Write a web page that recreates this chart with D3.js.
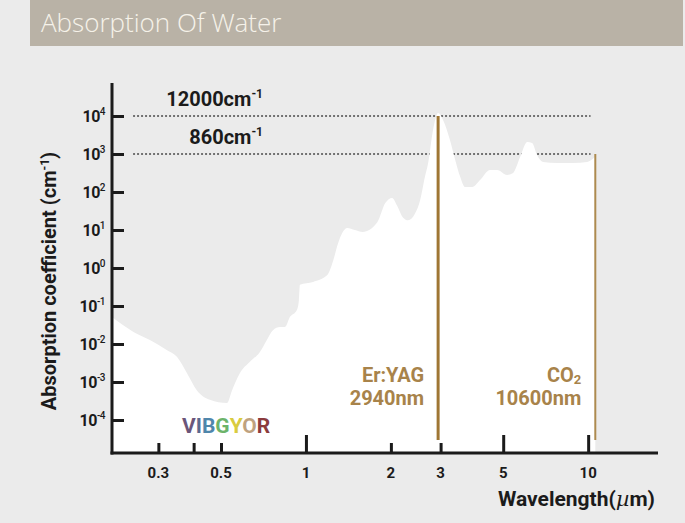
<!DOCTYPE html>
<html>
<head>
<meta charset="utf-8">
<script src="https://cdn.jsdelivr.net/npm/d3@7"></script>
<style>
  body { margin: 0; background: #ebebeb; }
  svg { display: block; font-family: Roboto, "DejaVu Sans", sans-serif; }
</style>
</head>
<body>
<script>

// absorption spectrum of water
// wavelength in micrometres, absorption coefficient in 1/cm
var wavelengths = [0.2055, 0.244, 0.28, 0.321, 0.349, 0.379, 0.411, 0.457, 0.525, 0.547,
                   0.583, 0.633, 0.687, 0.727, 0.764, 0.809, 0.843, 0.877, 0.929, 0.944,
                   0.952, 1.06, 1.19, 1.25, 1.30, 1.40, 1.49, 1.59, 1.79, 1.91,
                   2.02, 2.10, 2.21, 2.30, 2.44, 2.54, 2.64, 2.71, 2.82, 2.94,
                   3.06, 3.24, 3.38, 3.52, 3.66, 3.88, 4.14, 4.49, 4.76, 5.16,
                   5.42, 5.74, 6.08, 6.33, 6.59, 6.92, 7.76, 8.85, 9.92, 10.6];
var absorption = [0.051, 0.021, 0.0127, 0.007, 0.0046, 0.0017, 0.0006, 0.00034, 0.00028, 0.0006,
                  0.0017, 0.0034, 0.0062, 0.0127, 0.023, 0.028, 0.028, 0.051, 0.079, 0.14,
                  0.36, 0.43, 0.65, 1.6, 4.5, 11.3, 10, 8.9, 16, 51,
                  70, 45, 21, 18, 28, 62, 250, 580, 4300, 12000,
                  7900, 2300, 700, 250, 135, 135, 207, 380, 380, 280,
                  316, 830, 2070, 1950, 940, 615, 580, 580, 615, 860];

var yTickExp = [4, 3, 2, 1, 0, -1, -2, -3, -4];
var xTicksMajor = [1, 5, 10];
var xTicksMinor = [0.3, 0.4, 0.5, 2, 3];
var xTickLabels = [0.3, 0.5, 1, 2, 3, 5, 10];

// dotted reference levels and their labels
var refLevels = [1e4, 1e3];
var refLabels = ['12000', '860'];
var refSpan = [0.244, 10.2];

// laser lines
var lasers = [
  { name: 'Er:YAG', sub: '', wave: '2940nm', at: 2.94, top: 1e4, width: 3, color: '#9f7634' },
  { name: 'CO', sub: '2', wave: '10600nm', at: 10.6, top: 1e3, width: 2, color: '#ad8a4f' }
];
var laserBottom = 3e-5;

var vibgyor = ['V', 'I', 'B', 'G', 'Y', 'O', 'R'];
var vibgyorColors = ['#6b5579', '#5a6a90', '#4f86ab', '#6cb36a', '#d9cb40', '#bfa27f', '#8b3b3d'];

var W = 685, H = 523;

var svg = d3.select('body').append('svg')
  .attr('width', W)
  .attr('height', H);

svg.append('rect').attr('width', W).attr('height', H).attr('fill', '#ebebeb');

// header bar
svg.append('rect')
  .attr('x', 30).attr('y', 0)
  .attr('width', 653).attr('height', 46)
  .attr('fill', '#b9b2a6');
svg.append('text')
  .attr('x', 41).attr('y', 32)
  .attr('font-family', '"Open Sans", sans-serif')
  .attr('font-weight', 300)
  .attr('font-size', 26)
  .attr('fill', '#f6f2ea')
  .text('Absorption Of Water');

var x = d3.scaleLog().domain([0.2055, 17.68]).range([112, 658]);
var y = d3.scaleLog().domain([1.355e-5, 7.38e4]).range([453, 83]);

var data = wavelengths.map(function(w, i) { return { w: w, a: absorption[i] }; });

// dotted levels
svg.selectAll('.ref')
  .data(refLevels)
  .enter()
  .append('line')
  .attr('x1', x(refSpan[0]))
  .attr('x2', x(refSpan[1]))
  .attr('y1', function(d) { return y(d); })
  .attr('y2', function(d) { return y(d); })
  .attr('stroke', '#4a4a4a')
  .attr('stroke-width', 1.4)
  .attr('stroke-dasharray', '2,2');

// white area under the curve
var area = d3.area()
  .x(function(d) { return x(d.w); })
  .y0(y(y.domain()[0]))
  .y1(function(d) { return y(d.a); })
  .curve(d3.curveMonotoneX);

svg.append('path')
  .datum(data)
  .attr('d', area)
  .attr('fill', '#ffffff');

// axes
var axisColor = '#1b1b1b';

var yAxis = svg.append('g')
  .attr('transform', 'translate(' + x.range()[0] + ',0)')
  .call(d3.axisLeft(y)
    .tickValues(yTickExp.map(function(e) { return Math.pow(10, e); }))
    .tickSize(-12)
    .tickFormat(function() { return ''; }));
yAxis.select('.domain').remove();
yAxis.selectAll('.tick line').attr('stroke', axisColor).attr('stroke-width', 3);

var xMinor = svg.append('g')
  .attr('transform', 'translate(0,' + y.range()[0] + ')')
  .call(d3.axisBottom(x).tickValues(xTicksMinor).tickSize(-10).tickFormat(function() { return ''; }));
var xMajor = svg.append('g')
  .attr('transform', 'translate(0,' + y.range()[0] + ')')
  .call(d3.axisBottom(x).tickValues(xTicksMajor).tickSize(-18).tickFormat(function() { return ''; }));
[xMinor, xMajor].forEach(function(g) {
  g.select('.domain').remove();
  g.selectAll('.tick line').attr('stroke', axisColor).attr('stroke-width', 3);
});

// axis lines
svg.append('line')
  .attr('x1', x.range()[0]).attr('x2', x.range()[0])
  .attr('y1', y.range()[1]).attr('y2', y.range()[0] + 1.5)
  .attr('stroke', axisColor).attr('stroke-width', 3);
svg.append('line')
  .attr('x1', x.range()[0] - 1.5).attr('x2', x.range()[1])
  .attr('y1', y.range()[0]).attr('y2', y.range()[0])
  .attr('stroke', axisColor).attr('stroke-width', 3);

// y tick labels 10^n
var yLab = svg.selectAll('.ylab')
  .data(yTickExp)
  .enter()
  .append('text')
  .attr('x', x.range()[0] - 7)
  .attr('y', function(d) { return y(Math.pow(10, d)) + 6; })
  .attr('text-anchor', 'end')
  .attr('font-weight', 700)
  .attr('font-size', 16)
  .attr('letter-spacing', -0.5)
  .attr('fill', axisColor);
yLab.append('tspan').text('10');
yLab.append('tspan')
  .attr('dy', -7)
  .attr('font-size', 10)
  .attr('font-weight', 500)
  .text(function(d) { return d < 0 ? '-' + (-d) : d; });

// x tick labels
svg.selectAll('.xlab')
  .data(xTickLabels)
  .enter()
  .append('text')
  .attr('x', function(d) { return x(d); })
  .attr('y', 478)
  .attr('text-anchor', 'middle')
  .attr('font-weight', 700)
  .attr('font-size', 15)
  .attr('fill', axisColor)
  .text(function(d) { return d; });

// axis titles
var xt = svg.append('text')
  .attr('x', 655).attr('y', 506)
  .attr('text-anchor', 'end')
  .attr('font-weight', 700)
  .attr('font-size', 21)
  .attr('fill', axisColor);
xt.append('tspan').text('Wavelength(');
xt.append('tspan').attr('font-style', 'italic').attr('font-family', '"DejaVu Serif", serif').attr('font-weight', 400).text('\u00b5');
xt.append('tspan').text('m)');

var yt = svg.append('text')
  .attr('transform', 'translate(56,281) rotate(-90)')
  .attr('text-anchor', 'middle')
  .attr('font-weight', 700)
  .attr('font-size', 20)
  .attr('fill', axisColor);
yt.append('tspan').text('Absorption coefficient (cm');
yt.append('tspan').attr('dy', -7).attr('font-size', 12).text('-1');
yt.append('tspan').attr('dy', 7).text(')');

// reference labels
var rl = svg.selectAll('.reflab')
  .data(refLevels)
  .enter()
  .append('text')
  .attr('x', 263)
  .attr('y', function(d) { return y(d) - 10; })
  .attr('text-anchor', 'end')
  .attr('font-weight', 700)
  .attr('font-size', 20)
  .attr('fill', axisColor);
rl.append('tspan').text(function(d, i) { return refLabels[i] + 'cm'; });
rl.append('tspan').attr('dy', -8).attr('font-size', 12).text('-1');

// laser lines and labels
svg.selectAll('.laser')
  .data(lasers)
  .enter()
  .append('line')
  .attr('x1', function(d) { return x(d.at); })
  .attr('x2', function(d) { return x(d.at); })
  .attr('y1', function(d) { return y(d.top); })
  .attr('y2', y(laserBottom))
  .attr('stroke', function(d) { return d.color; })
  .attr('stroke-width', function(d) { return d.width; });

var ll = svg.selectAll('.laserlab')
  .data(lasers)
  .enter()
  .append('g')
  .attr('font-weight', 700)
  .attr('font-size', 20)
  .attr('fill', '#a8834a')
  .attr('text-anchor', 'end');
var l1 = ll.append('text')
  .attr('x', function(d) { return x(d.at) - 14; })
  .attr('y', 382);
l1.append('tspan').text(function(d) { return d.name; });
l1.append('tspan').attr('dy', 2).attr('font-size', 13).text(function(d) { return d.sub; });
ll.append('text')
  .attr('x', function(d) { return x(d.at) - 14; })
  .attr('y', 405)
  .text(function(d) { return d.wave; });

// VIBGYOR
var vt = svg.append('text')
  .attr('x', 182).attr('y', 433)
  .attr('font-weight', 700)
  .attr('font-size', 21);
vt.selectAll('tspan')
  .data(vibgyor)
  .enter()
  .append('tspan')
  .attr('fill', function(d, i) { return vibgyorColors[i]; })
  .text(function(d) { return d; });

</script>
</body>
</html>
